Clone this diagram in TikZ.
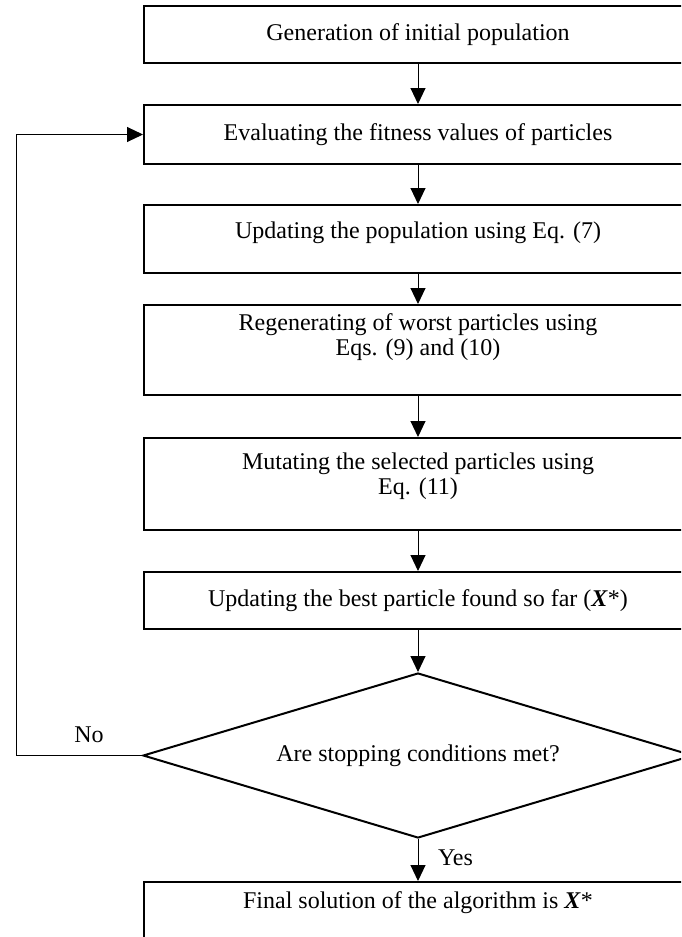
\documentclass[tikz,border=0pt]{standalone}
\usepackage{fontspec}
\setmainfont{Liberation Serif}
\usetikzlibrary{shapes.geometric,arrows.meta}
\begin{document}
\begin{tikzpicture}[x=0.5pt,y=-0.5pt,
  font=\fontsize{12}{12.5}\selectfont,
  stepbox/.style={draw,line width=1pt,minimum width=274pt,inner sep=0pt,align=center},
  decision/.style={draw,diamond,line width=1pt,aspect=3.33,minimum width=275pt,minimum height=82.5pt,inner sep=0pt},
  conn/.style={line width=0.5pt,-{Triangle[length=8pt,width=7.5pt]}},
  lbl/.style={inner sep=0pt}
  ]
\useasboundingbox (0,0) rectangle (681,937);
\clip (0,0) rectangle (681,937);

\node[stepbox,minimum height=28.5pt] (b1) at (418,34.5) {Generation of initial population};
\node[stepbox,minimum height=29.5pt] (b2) at (418,134.5) {Evaluating the fitness values of particles};
\node[stepbox,minimum height=34pt,text depth=8.6pt] (b3) at (418,239) {Updating the population using Eq. (7)};
\node[stepbox,minimum height=45pt,text depth=15.1pt] (b4) at (418,350) {Regenerating of worst particles using\\Eqs. (9) and (10)};
\node[stepbox,minimum height=46pt,text depth=10.1pt] (b5) at (418,484) {Mutating the selected particles using\\Eq. (11)};
\node[stepbox,minimum height=28.5pt] (b6) at (418,600.5) {Updating the best particle found so far (\textit{\textbf{X}}*)};
\node[decision] (d) at (418,755.5) {Are stopping conditions met?};
\node[stepbox,minimum height=30pt,text depth=11.6pt,anchor=north] (b7) at (418,881) {Final solution of the algorithm is \textit{\textbf{X}}*};

\coordinate (lp1) at (16,755.5);
\coordinate (lp2) at (16,134.5);

\draw[conn] (b1) -- (b2);
\draw[conn] (b2) -- (b3);
\draw[conn] (b3) -- (b4);
\draw[conn] (b4) -- (b5);
\draw[conn] (b5) -- (b6);
\draw[conn] (b6) -- (d);
\draw[conn] (d) -- node[lbl,pos=0.44,right=9.75pt] {Yes} (b7);
\draw[conn] (d.west) -- node[lbl,pos=0.42,above=6pt] {No} (lp1) -- (lp2) -- (b2.west);
\end{tikzpicture}
\end{document}
